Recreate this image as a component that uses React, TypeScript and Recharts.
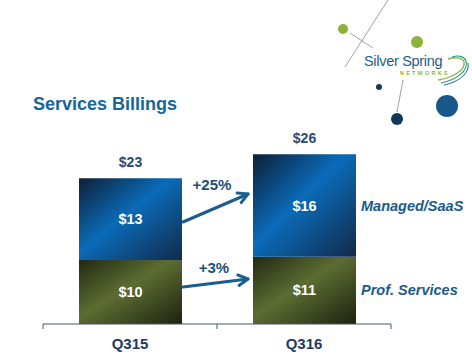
import React from 'react';
import { BarChart, Bar, XAxis, YAxis, LabelList } from 'recharts';

const quarters = ['Q315', 'Q316'];
const profServices = [10.1, 10.6];
const managedSaas = [12.9, 16.2];
const totals = [23, 26];
const growthLabels = ['+25%', '+3%'];
const seriesNames = ['Managed/SaaS', 'Prof. Services'];

const data = quarters.map((q, i) => ({
  quarter: q,
  prof: profServices[i],
  managed: managedSaas[i],
  total: totals[i],
}));

const FONT = '"Liberation Sans", Arial, sans-serif';

const QuarterTick = (props: any) => {
  const { x, y, payload, index, visibleTicksCount } = props;
  const half = payload && payload.offset ? payload.offset : 87;
  const axisY = y - 8;
  return (
    <g>
      <line x1={x - half} x2={x - half} y1={axisY} y2={axisY + 5} stroke="#44546a" />
      {index === visibleTicksCount - 1 && (
        <line x1={x + half} x2={x + half} y1={axisY} y2={axisY + 5} stroke="#44546a" />
      )}
      <text x={x} y={axisY + 25} textAnchor="middle" fontFamily={FONT} fontWeight="bold" fontSize={15} fill="#1f3864">
        {payload.value}
      </text>
    </g>
  );
};

const valueLabel = (props: any) => {
  const { x, y, width, height, value } = props;
  return (
    <text x={x + width / 2} y={y + height / 2 + 5} textAnchor="middle" fontFamily={FONT} fontWeight="bold" fontSize={14.5} fill="#ffffff">
      ${Math.round(value)}
    </text>
  );
};

const seriesLabel = (name: string) => (props: any) => {
  const { x, y, width, height, index } = props;
  if (index !== quarters.length - 1) return null;
  return (
    <text x={x + width + 5} y={y + height / 2 + 5} fontFamily={FONT} fontWeight="bold" fontStyle="italic" fontSize={14.5} fill="#1a5a8c">
      {name}
    </text>
  );
};

const totalLabel = (props: any) => {
  const { x, y, width, index } = props;
  return (
    <text x={x + width / 2} y={y - 11} textAnchor="middle" fontFamily={FONT} fontWeight="bold" fontSize={14} fill="#2b4a78">
      ${totals[index]}
    </text>
  );
};

const Logo = () => (
  <g>
    <line x1={388} y1={0} x2={345} y2={67} stroke="#a0a0a0" strokeWidth={1} />
    <line x1={350} y1={33} x2={373} y2={48} stroke="#a0a0a0" strokeWidth={1} />
    <line x1={403} y1={80} x2={397} y2={112} stroke="#a0a0a0" strokeWidth={1} />
    <circle cx={343} cy={29} r={5} fill="#8db33a" />
    <circle cx={417} cy={42} r={6} fill="#8db33a" />
    <circle cx={379} cy={87} r={3} fill="#173a5e" />
    <circle cx={397} cy={119} r={6} fill="#12355b" />
    <circle cx={447} cy={106} r={11} fill="#17578a" />
    <text x={364} y={66} fontFamily={FONT} fontSize={14.5} letterSpacing={-0.3} fill="#1b5e8c">Silver Spring</text>
    <text x={400} y={75} fontFamily={FONT} fontSize={5.5} fontWeight="bold" letterSpacing={2.2} fill="#8db33a">NETWORKS</text>
    <path d="M438 80 C452 78 466 70 464 62 C462 57 454 57 448 59" fill="none" stroke="#8db33a" strokeWidth={1.4} />
    <path d="M441 83 C456 80 469 71 466 61 C464 56 458 55 452 57" fill="none" stroke="#2a9a8a" strokeWidth={1.2} />
    <path d="M444 85 C459 82 470 73 468 63" fill="none" stroke="#1b5e8c" strokeWidth={1} />
  </g>
);

const Arrow = ({ x1, y1, x2, y2 }: { x1: number; y1: number; x2: number; y2: number }) => {
  const a = Math.atan2(y2 - y1, x2 - x1);
  const len = 11;
  const p1 = [x2 - len * Math.cos(a - 0.5), y2 - len * Math.sin(a - 0.5)];
  const p2 = [x2 - len * Math.cos(a + 0.5), y2 - len * Math.sin(a + 0.5)];
  return (
    <g stroke="#1b5e8c" strokeWidth={3} fill="none" strokeLinecap="round" strokeLinejoin="round">
      <line x1={x1} y1={y1} x2={x2} y2={y2} />
      <polyline points={`${p1[0]},${p1[1]} ${x2},${y2} ${p2[0]},${p2[1]}`} />
    </g>
  );
};

export default function App() {
  return (
    <div style={{ position: 'absolute', left: 0, top: 0, width: 472, height: 356, background: '#ffffff', fontFamily: FONT }}>
      <BarChart width={472} height={356} data={data} margin={{ top: 134, right: 81, bottom: 2, left: 43 }} barSize={103}>
        <defs>
          <linearGradient id="blueGrad" x1="0" y1="0" x2="1" y2="1">
            <stop offset="0%" stopColor="#0d2036" />
            <stop offset="45%" stopColor="#0a6bb8" />
            <stop offset="100%" stopColor="#122a4a" />
          </linearGradient>
          <linearGradient id="greenGrad" x1="0" y1="0" x2="1" y2="1">
            <stop offset="0%" stopColor="#222914" />
            <stop offset="45%" stopColor="#5c6d31" />
            <stop offset="100%" stopColor="#1c2211" />
          </linearGradient>
        </defs>
        <XAxis dataKey="quarter" axisLine={{ stroke: '#44546a' }} tickLine={false} tickSize={6} tickMargin={2} tick={<QuarterTick />} />
        <YAxis hide domain={[0, 30]} />
        <Bar dataKey="prof" stackId="a" fill="url(#greenGrad)" isAnimationActive={false}>
          <LabelList dataKey="prof" content={valueLabel} />
          <LabelList dataKey="prof" content={seriesLabel(seriesNames[1])} />
        </Bar>
        <Bar dataKey="managed" stackId="a" fill="url(#blueGrad)" isAnimationActive={false}>
          <LabelList dataKey="managed" content={valueLabel} />
          <LabelList dataKey="managed" content={seriesLabel(seriesNames[0])} />
          <LabelList dataKey="total" content={totalLabel} />
        </Bar>
      </BarChart>
      <svg width={472} height={356} style={{ position: 'absolute', left: 0, top: 0, pointerEvents: 'none' }}>
        <Logo />
        <text x={33} y={110} fontFamily={FONT} fontWeight="bold" fontSize={18} fill="#17659a">Services Billings</text>
        <Arrow x1={183} y1={222} x2={248} y2={194} />
        <Arrow x1={183} y1={287} x2={248} y2={279} />
        <text x={212} y={190} textAnchor="middle" fontFamily={FONT} fontWeight="bold" fontSize={15} fill="#1f4e79">{growthLabels[0]}</text>
        <text x={214} y={273} textAnchor="middle" fontFamily={FONT} fontWeight="bold" fontSize={15} fill="#1f4e79">{growthLabels[1]}</text>
      </svg>
    </div>
  );
}
